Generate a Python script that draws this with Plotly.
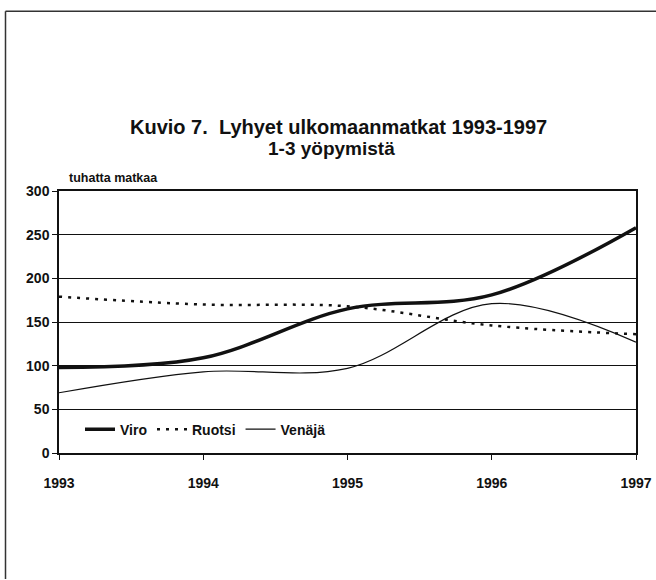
import plotly.graph_objects as go

years = [1993, 1994, 1995, 1996, 1997]
viro = [98, 109, 165, 181, 258]
ruotsi = [179, 170, 168, 146, 136]
venaja = [69, 93, 97, 171, 127]
y_ticks = [0, 50, 100, 150, 200, 250, 300]
title_1 = "Kuvio 7.  Lyhyet ulkomaanmatkat 1993-1997"
title_2 = "1-3 yöpymistä"
y_unit = "tuhatta matkaa"

W, H = 656, 580
L, R, T, B = 59, 636, 190.5, 453.5
pw, ph = R - L, B - T

def px(x):
    return (x - L) / pw

def py(y):
    return (B - y) / ph

FONT = "Liberation Sans, Arial, Helvetica, sans-serif"
INK = "#111111"

fig = go.Figure()
fig.add_trace(go.Scatter(x=years, y=viro, name="Viro", mode="lines",
                         line=dict(color=INK, width=3.5, shape="spline", smoothing=1)))
fig.add_trace(go.Scatter(x=years, y=ruotsi, name="Ruotsi", mode="lines",
                         line=dict(color=INK, width=2.5, dash="3px,6px", shape="spline", smoothing=1)))
fig.add_trace(go.Scatter(x=years, y=venaja, name="Venäjä", mode="lines",
                         line=dict(color=INK, width=1.2, shape="spline", smoothing=1)))

fig.update_layout(
    width=W, height=H,
    margin=dict(l=L, r=W - R, t=T, b=H - B, pad=0, autoexpand=False),
    paper_bgcolor="white", plot_bgcolor="white",
    font=dict(family=FONT, color=INK),
    showlegend=True,
    legend=dict(orientation="h", x=px(80), y=py(430), xanchor="left", yanchor="middle",
                bgcolor="rgba(0,0,0,0)", font=dict(size=14, weight="bold", family=FONT),
                itemwidth=30, tracegroupgap=0),
    xaxis=dict(range=[1993, 1997], tickvals=years, ticktext=[str(y) for y in years],
               showgrid=False, zeroline=False, showline=True, linecolor=INK, linewidth=1.5,
               mirror=True, ticks="outside", ticklen=5, tickcolor=INK, automargin=False,
               tickfont=dict(size=14, weight="bold", family=FONT), ticklabelstandoff=11),
    yaxis=dict(range=[0, 300], tickvals=y_ticks, showgrid=True, gridcolor=INK, gridwidth=1,
               zeroline=False, showline=True, linecolor=INK, linewidth=1.5, mirror=True,
               ticks="outside", ticklen=5, tickcolor=INK, automargin=False,
               tickfont=dict(size=14, weight="bold", family=FONT)),
    annotations=[
        dict(text=title_1, x=px(338), y=py(126), xref="paper", yref="paper", showarrow=False,
             xanchor="center", yanchor="middle", font=dict(size=20, weight="bold", family=FONT)),
        dict(text=title_2, x=px(331), y=py(148), xref="paper", yref="paper", showarrow=False,
             xanchor="center", yanchor="middle", font=dict(size=19, weight="bold", family=FONT)),
        dict(text=y_unit, x=px(67), y=py(177), xref="paper", yref="paper", showarrow=False,
             xanchor="left", yanchor="middle", font=dict(size=12.5, weight="bold", family=FONT)),
    ],
    shapes=[
        dict(type="line", xref="paper", yref="paper", x0=px(5.5), x1=px(5.5), y0=py(10), y1=py(580),
             line=dict(color="#333333", width=1.5)),
        dict(type="line", xref="paper", yref="paper", x0=px(5.5), x1=px(656), y0=py(10), y1=py(10),
             line=dict(color="#333333", width=1.5)),
    ],
)

fig.write_html(
    "out.html",
    config={"displayModeBar": False},
    post_script="document.body.style.margin='0';document.body.style.padding='0';"
                "document.body.style.overflow='hidden';",
)
